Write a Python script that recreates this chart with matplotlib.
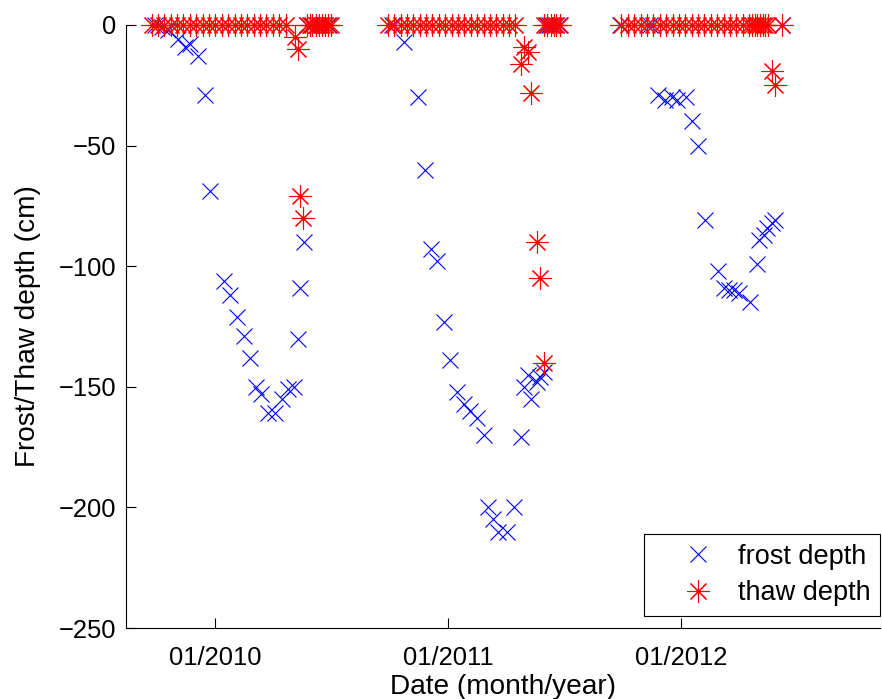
import matplotlib
matplotlib.use("Agg")
import matplotlib.pyplot as plt
import pandas as pd

plt.rcParams['font.family'] = ['Liberation Sans', 'DejaVu Sans']

# ---------------- data ----------------
frost_dates = [
    "2009-09-28", "2009-10-09", "2009-10-19", "2009-11-04", "2009-11-15", "2009-11-23",
    "2009-12-04", "2009-12-15", "2009-12-24", "2010-01-14", "2010-01-24", "2010-02-04",
    "2010-02-15", "2010-02-25", "2010-03-05", "2010-03-14", "2010-03-25", "2010-04-04",
    "2010-04-15", "2010-04-24", "2010-05-04", "2010-05-10", "2010-05-14", "2010-05-20",
    "2010-05-24", "2010-05-31", "2010-06-07", "2010-06-14", "2010-06-21", "2010-06-28",
    "2010-10-05", "2010-10-23", "2010-11-14", "2010-11-25", "2010-12-05", "2010-12-14",
    "2010-12-25", "2011-01-04", "2011-01-15", "2011-01-25", "2011-02-04", "2011-02-15",
    "2011-02-25", "2011-03-04", "2011-03-12", "2011-03-20", "2011-04-02", "2011-04-14",
    "2011-04-25", "2011-04-30", "2011-05-05", "2011-05-11", "2011-05-19", "2011-05-25",
    "2011-05-31", "2011-06-03", "2011-06-08", "2011-06-13", "2011-06-18", "2011-06-23",
    "2011-09-26", "2011-11-13", "2011-11-26", "2011-12-06", "2011-12-17", "2011-12-25",
    "2012-01-08", "2012-01-17", "2012-01-27", "2012-02-07", "2012-02-27", "2012-03-08",
    "2012-03-15", "2012-03-23", "2012-03-31", "2012-04-18", "2012-04-28", "2012-05-02",
    "2012-05-09", "2012-05-14", "2012-05-22", "2012-05-27", "2012-06-07",
]
frost_depth = [
    0, -1, -2, -6, -9, -8,
    -13, -29, -69, -106, -112, -121,
    -129, -138, -150, -153, -161, -161,
    -155, -151, -150, -130, -109, -90,
    0, 0, 0, 0, 0, 0,
    0, -7, -30, -60, -93, -98,
    -123, -139, -152, -157, -160, -163,
    -170, -200, -205, -210, -210, -200,
    -171, -150, -145, -155, -148, -146,
    -144, 0, 0, 0, 0, 0,
    0, 0, -29, -31, -30, -31,
    -30, -40, -50, -81, -102, -109,
    -110, -110, -111, -115, -99, -89,
    -87, -84, -82, -81, 0,
]

thaw_dates = [
    "2009-09-23", "2009-10-03", "2009-10-13", "2009-10-23", "2009-11-02", "2009-11-12",
    "2009-11-22", "2009-12-02", "2009-12-12", "2009-12-22", "2010-01-01", "2010-01-11",
    "2010-01-21", "2010-01-31", "2010-02-10", "2010-02-20", "2010-03-02", "2010-03-12",
    "2010-03-22", "2010-04-01", "2010-04-11", "2010-04-21",
    "2010-05-05", "2010-05-10", "2010-05-13", "2010-05-19",
    "2010-05-24", "2010-05-29", "2010-06-02", "2010-06-07", "2010-06-12", "2010-06-17",
    "2010-06-21", "2010-06-26", "2010-07-01",
    "2010-09-28", "2010-10-08", "2010-10-18", "2010-10-28", "2010-11-07", "2010-11-17",
    "2010-11-27", "2010-12-07", "2010-12-17", "2010-12-27", "2011-01-06", "2011-01-16",
    "2011-01-26", "2011-02-05", "2011-02-15", "2011-02-25", "2011-03-07", "2011-03-17",
    "2011-03-27", "2011-04-06", "2011-04-16",
    "2011-04-25", "2011-04-30", "2011-05-05", "2011-05-11", "2011-05-20", "2011-05-25",
    "2011-05-30",
    "2011-05-31", "2011-06-05", "2011-06-10", "2011-06-15", "2011-06-19", "2011-06-24",
    "2011-09-29", "2011-10-09", "2011-10-19", "2011-10-29", "2011-11-08", "2011-11-18",
    "2011-11-28", "2011-12-08", "2011-12-18", "2011-12-28", "2012-01-07", "2012-01-17",
    "2012-01-27", "2012-02-06", "2012-02-16", "2012-02-26", "2012-03-07", "2012-03-17",
    "2012-03-27", "2012-04-06", "2012-04-16",
    "2012-04-21", "2012-04-25", "2012-04-29", "2012-05-03", "2012-05-07", "2012-05-11",
    "2012-05-15", "2012-05-22", "2012-05-27", "2012-06-07",
]
thaw_depth = [
    0, 0, 0, 0, 0, 0,
    0, 0, 0, 0, 0, 0,
    0, 0, 0, 0, 0, 0,
    0, 0, 0, 0,
    -5, -10, -71, -80,
    0, 0, 0, 0, 0, 0,
    0, 0, 0,
    0, 0, 0, 0, 0, 0,
    0, 0, 0, 0, 0, 0,
    0, 0, 0, 0, 0, 0,
    0, 0, 0,
    -16, -9, -11, -28, -90, -105,
    -140,
    0, 0, 0, 0, 0, 0,
    0, 0, 0, 0, 0, 0,
    0, 0, 0, 0, 0, 0,
    0, 0, 0, 0, 0, 0,
    0, 0, 0,
    0, 0, 0, 0, 0, 0,
    0, -19, -25, 0,
]

xtick_dates = ["2010-01-01", "2011-01-01", "2012-01-01"]
xtick_labels = ["01/2010", "01/2011", "01/2012"]
yticks = [0, -50, -100, -150, -200, -250]
x_limits = ["2009-08-14", "2012-11-07"]
y_limits = [-250, 0]

# ---------------- plot ----------------
fig = plt.figure(figsize=(8.82, 6.99), dpi=100)
ax = fig.add_axes([126 / 882, 1 - 628 / 699, 754 / 882, 603 / 699])

fd = pd.to_datetime(frost_dates)
td = pd.to_datetime(thaw_dates)

ax.plot(fd, frost_depth, linestyle='none', marker='x', color=(0, 0, 1),
        markersize=12, markeredgewidth=0.8, label='frost depth', clip_on=False)
ax.plot(td, thaw_depth, linestyle='none', marker=(8, 2, 0), color=(1, 0, 0),
        markersize=16, markeredgewidth=0.8, label='thaw depth', clip_on=False)

ax.set_xlim(pd.to_datetime(x_limits[0]), pd.to_datetime(x_limits[1]))
ax.set_ylim(y_limits[0], y_limits[1])
ax.set_xticks(pd.to_datetime(xtick_dates))
ax.set_xticklabels(xtick_labels)
ax.set_yticks(yticks)

for s in ['top', 'right']:
    ax.spines[s].set_visible(False)
for s in ['left', 'bottom']:
    ax.spines[s].set_linewidth(0.8)

ax.tick_params(direction='in', length=7, width=0.8, labelsize=18.4)
ax.tick_params(axis='x', pad=13)
ax.tick_params(axis='y', pad=7)

ax.set_xlabel('Date (month/year)', fontsize=20.2, labelpad=3)
ax.set_ylabel('Frost/Thaw depth (cm)', fontsize=20.2, labelpad=13)

leg = ax.legend(loc='lower right', bbox_to_anchor=(1.0, 0.02), fontsize=19.5,
                frameon=True, fancybox=False, framealpha=1, edgecolor='black',
                handlelength=3.28, handletextpad=-0.17, borderpad=0.35, labelspacing=0.4,
                borderaxespad=0.0)
leg.get_frame().set_linewidth(0.8)

fig.savefig('out.png', dpi=100)
